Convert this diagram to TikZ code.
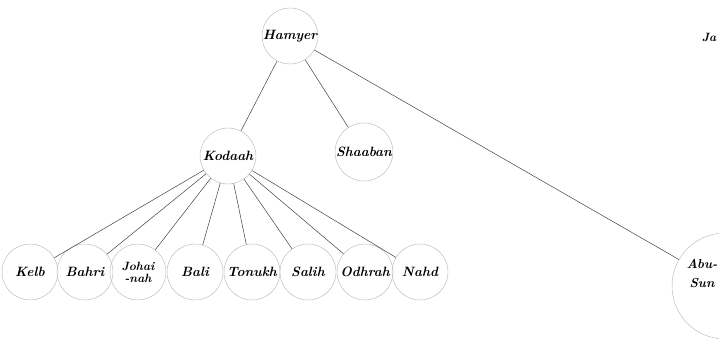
\documentclass[tikz,border=0pt]{standalone}
\begin{document}
\begin{tikzpicture}[x=1pt,y=-1pt,
  person/.style={circle,draw=gray!55,line width=0.45pt,minimum size=56pt,inner sep=0pt,
    font=\fontsize{13.5}{13}\selectfont\bfseries\itshape,align=center},
  link/.style={draw=black!75,line width=0.5pt}]
\useasboundingbox (0,0) rectangle (719,344);
\clip (0,0) rectangle (719,344);
\node[person] (hamyer) at (290,36) {Hamyer};
\node[person] (kodaah) at (228,156) {Kodaah};
\node[person,minimum size=58pt] (shaaban) at (364,152) {Shaaban};
\node[person,minimum size=106pt] (abu) at (725,286) {};
\node[font=\fontsize{13}{19}\selectfont\bfseries\itshape,align=center] (abutext) at (702,273) {Abu-\\Sun};
\node[font=\fontsize{12}{12}\selectfont\bfseries\itshape] (ja) at (709,37) {Ja};
\node[person] (kelb) at (30,272) {Kelb};
\node[person] (bahri) at (85,272) {Bahri};
\node[person,font=\fontsize{12}{12}\selectfont\bfseries\itshape] (johai) at (138,272) {Johai\\-nah};
\node[person] (bali) at (195,272) {Bali};
\node[person] (tonukh) at (252,272) {Tonukh};
\node[person] (salih) at (308,272) {Salih};
\node[person] (odhrah) at (365,272) {Odhrah};
\node[person] (nahd) at (420,272) {Nahd};
\draw[link] (hamyer) -- (kodaah);
\draw[link] (hamyer) -- (shaaban);
\draw[link] (hamyer) -- (abu);
\foreach \c in {kelb,bahri,johai,bali,tonukh,salih,odhrah,nahd}
  \draw[link] (kodaah) -- (\c);
\end{tikzpicture}
\end{document}
